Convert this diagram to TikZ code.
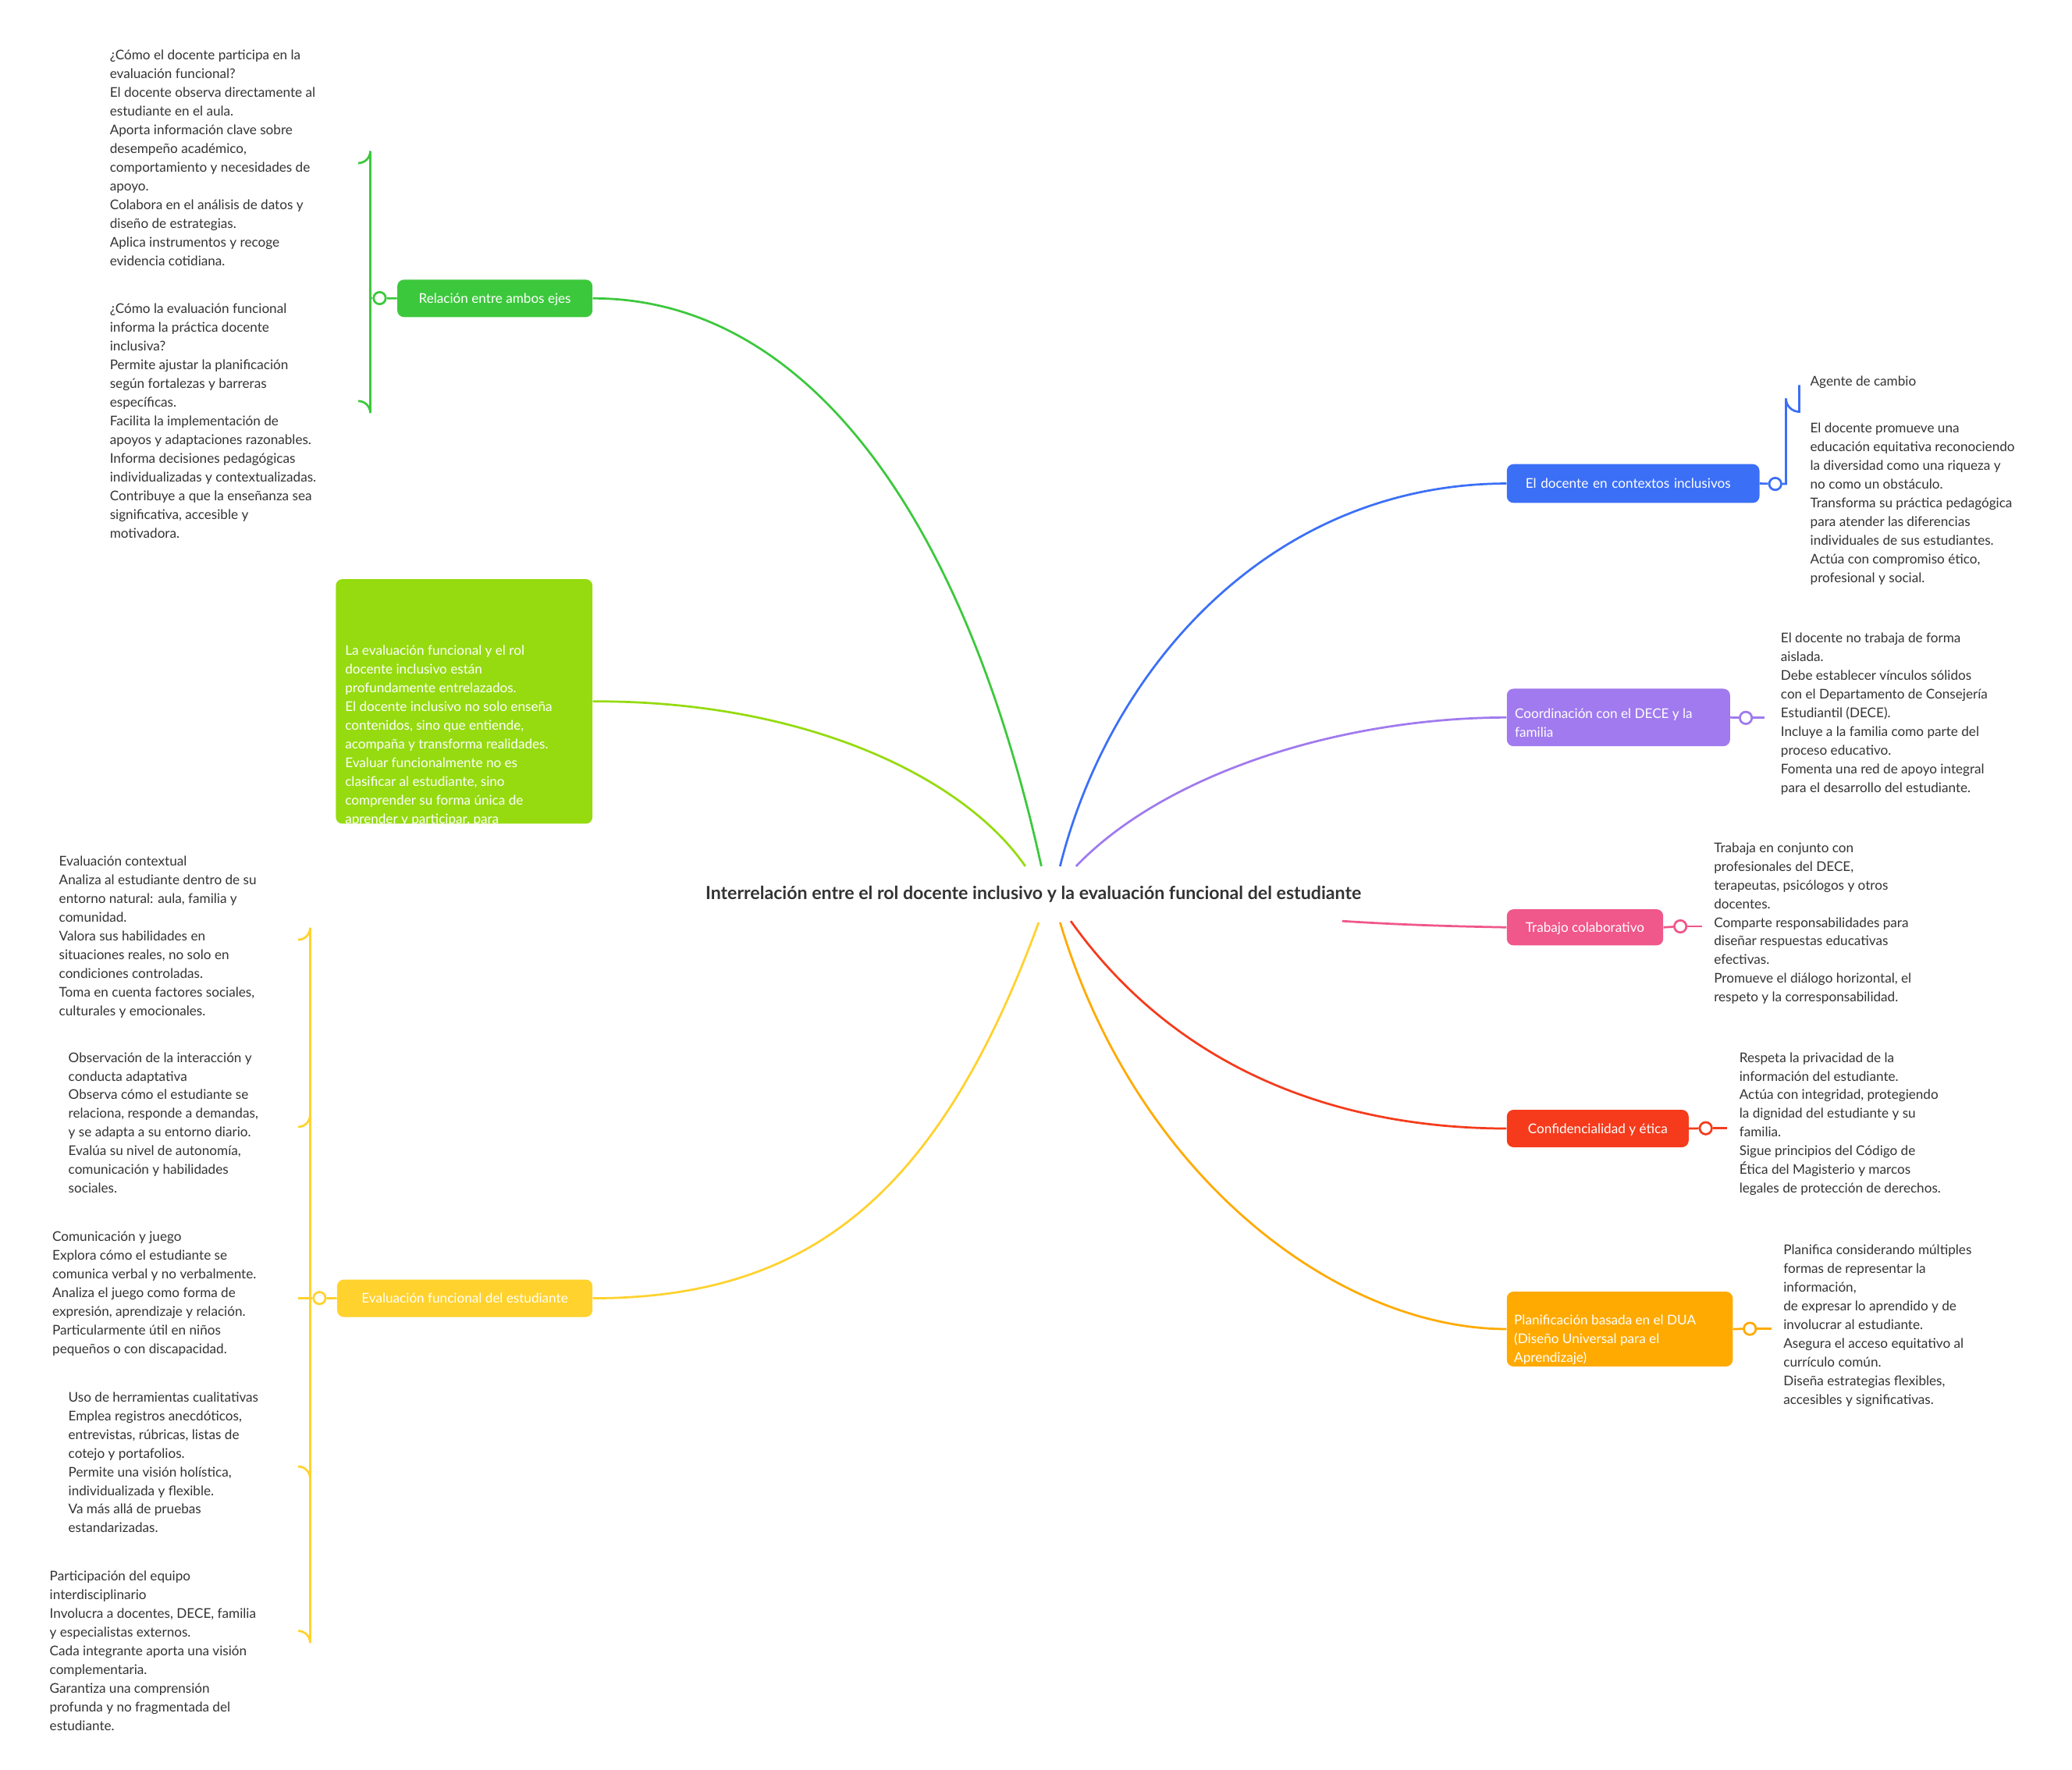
\documentclass[tikz,border=0pt]{standalone}
\usepackage{fontspec}
\setmainfont{Lato}
\begin{document}
\definecolor{cblue}{HTML}{3B6FF6}
\definecolor{cpurple}{HTML}{A07AEE}
\definecolor{cpink}{HTML}{F0578A}
\definecolor{cred}{HTML}{F53B1C}
\definecolor{corange}{HTML}{FFAA00}
\definecolor{cgreen}{HTML}{3CC83C}
\definecolor{clime}{HTML}{95DB10}
\definecolor{cyellow}{HTML}{FFD22E}
\definecolor{ctext}{HTML}{333333}
\begin{tikzpicture}[x=1pt,y=-1pt,
  box/.style={rounded corners=5pt,fill=#1,text=white,font=\fontsize{10}{14}\selectfont,align=left,anchor=north west,inner sep=0pt,text depth=0pt},
  leaf/.style={text=ctext,font=\fontsize{10}{14}\selectfont,align=left,anchor=north west,inner sep=0pt},
  br/.style={line width=1.6pt,draw=#1},
  dot/.style={circle,draw=#1,line width=1.6pt,fill=white,minimum size=9pt,inner sep=0pt}]
\useasboundingbox (0,0) rectangle (1550,1324);
\node[font=\bfseries\fontsize{13.5}{16}\selectfont,text=ctext] (title) at (773,669) {Interrelación entre el rol docente inclusivo y la evaluación funcional del estudiante};
\coordinate (sG) at (779,648);\coordinate (sL) at (767,648);\coordinate (sB) at (793,648);\coordinate (sP) at (805,648);
\coordinate (sY) at (777,690);\coordinate (sO) at (793,690);\coordinate (sR) at (801,689);\coordinate (sK) at (1004,689);
% boxes
\node[box=cblue,minimum width=189pt,minimum height=29pt,text width=175pt] (B) at (1127,347) {\hspace*{7pt}El docente en contextos inclusivos};
\node[box=cpurple,minimum width=167pt,minimum height=43pt] (P) at (1127,515) {\begin{minipage}{155pt}\hspace*{0pt}Coordinación con el DECE y la\\familia\end{minipage}};
\node[box=cpink,minimum width=117pt,minimum height=27pt] (K) at (1127,680) {Trabajo colaborativo};
\node[box=cred,minimum width=136pt,minimum height=28pt] (R) at (1127,830) {Confidencialidad y ética};
\node[box=corange,minimum width=169pt,minimum height=56pt] (O) at (1127,966) {\begin{minipage}{158pt}Planificación basada en el DUA\\(Diseño Universal para el\\Aprendizaje)\end{minipage}};
\node[box=cgreen,minimum width=146pt,minimum height=28pt] (G) at (297,209) {Relación entre ambos ejes};
\node[box=clime,minimum width=192pt,minimum height=183pt] (L) at (251,433) {\begin{minipage}{178pt}La evaluación funcional y el rol\\docente inclusivo están\\profundamente entrelazados.\\El docente inclusivo no solo enseña\\contenidos, sino que entiende,\\acompaña y transforma realidades.\\Evaluar funcionalmente no es\\clasificar al estudiante, sino\\comprender su forma única de\\aprender y participar, para\\construir una educación más\\humana y justa.\end{minipage}};
\node[box=cyellow,minimum width=191pt,minimum height=28pt] (Y) at (252,957) {Evaluación funcional del estudiante};
% main connectors
\draw[br=cblue] (sB) .. controls (830,500) and (950,362) .. (B.west);
\draw[br=cpurple] (sP) .. controls (870,580) and (1000,537) .. (P.west);
\draw[br=cpink] (sK) .. controls (1050,692) and (1090,693) .. (K.west);
\draw[br=cred] (sR) .. controls (880,800) and (1000,844) .. (R.west);
\draw[br=corange] (sO) .. controls (850,880) and (1000,994) .. (O.west);
\draw[br=cgreen] (sG) .. controls (720,380) and (600,223) .. (G.east);
\draw[br=clime] (sL) .. controls (720,580) and (600,524) .. (L.east);
\draw[br=cyellow] (sY) .. controls (700,900) and (600,971) .. (Y.east);
% leaves right
\node[leaf] (b1) at (1354,281) {Agente de cambio};
\node[leaf] (b2) at (1354,316) {El docente promueve una\\educación equitativa reconociendo\\la diversidad como una riqueza y\\no como un obstáculo.\\Transforma su práctica pedagógica\\para atender las diferencias\\individuales de sus estudiantes.\\Actúa con compromiso ético,\\profesional y social.};
\node[leaf] (p1) at (1332,473) {El docente no trabaja de forma\\aislada.\\Debe establecer vínculos sólidos\\con el Departamento de Consejería\\Estudiantil (DECE).\\Incluye a la familia como parte del\\proceso educativo.\\Fomenta una red de apoyo integral\\para el desarrollo del estudiante.};
\node[leaf] (k1) at (1282,630) {Trabaja en conjunto con\\profesionales del DECE,\\terapeutas, psicólogos y otros\\docentes.\\Comparte responsabilidades para\\diseñar respuestas educativas\\efectivas.\\Promueve el diálogo horizontal, el\\respeto y la corresponsabilidad.};
\node[leaf] (r1) at (1301,787) {Respeta la privacidad de la\\información del estudiante.\\Actúa con integridad, protegiendo\\la dignidad del estudiante y su\\familia.\\Sigue principios del Código de\\Ética del Magisterio y marcos\\legales de protección de derechos.};
\node[leaf] (o1) at (1334,931) {Planifica considerando múltiples\\formas de representar la\\información,\\de expresar lo aprendido y de\\involucrar al estudiante.\\Asegura el acceso equitativo al\\currículo común.\\Diseña estrategias flexibles,\\accesibles y significativas.};
% leaves left
\node[leaf] (g1) at (82,37) {¿Cómo el docente participa en la\\evaluación funcional?\\El docente observa directamente al\\estudiante en el aula.\\Aporta información clave sobre\\desempeño académico,\\comportamiento y necesidades de\\apoyo.\\Colabora en el análisis de datos y\\diseño de estrategias.\\Aplica instrumentos y recoge\\evidencia cotidiana.};
\node[leaf] (g2) at (82,227) {¿Cómo la evaluación funcional\\informa la práctica docente\\inclusiva?\\Permite ajustar la planificación\\según fortalezas y barreras\\específicas.\\Facilita la implementación de\\apoyos y adaptaciones razonables.\\Informa decisiones pedagógicas\\individualizadas y contextualizadas.\\Contribuye a que la enseñanza sea\\significativa, accesible y\\motivadora.};
\node[leaf] (y1) at (44,640) {Evaluación contextual\\Analiza al estudiante dentro de su\\entorno natural: aula, familia y\\comunidad.\\Valora sus habilidades en\\situaciones reales, no solo en\\condiciones controladas.\\Toma en cuenta factores sociales,\\culturales y emocionales.};
\node[leaf] (y2) at (51,787) {Observación de la interacción y\\conducta adaptativa\\Observa cómo el estudiante se\\relaciona, responde a demandas,\\y se adapta a su entorno diario.\\Evalúa su nivel de autonomía,\\comunicación y habilidades\\sociales.};
\node[leaf] (y3) at (39,921) {Comunicación y juego\\Explora cómo el estudiante se\\comunica verbal y no verbalmente.\\Analiza el juego como forma de\\expresión, aprendizaje y relación.\\Particularmente útil en niños\\pequeños o con discapacidad.};
\node[leaf] (y4) at (51,1041) {Uso de herramientas cualitativas\\Emplea registros anecdóticos,\\entrevistas, rúbricas, listas de\\cotejo y portafolios.\\Permite una visión holística,\\individualizada y flexible.\\Va más allá de pruebas\\estandarizadas.};
\node[leaf] (y5) at (37,1175) {Participación del equipo\\interdisciplinario\\Involucra a docentes, DECE, familia\\y especialistas externos.\\Cada integrante aporta una visión\\complementaria.\\Garantiza una comprensión\\profunda y no fragmentada del\\estudiante.};
% brackets
\node[dot=cblue] (dB) at (1328,362) {};
\draw[br=cblue] (B.east) -- (dB);
\draw[br=cblue] (dB.east) -- (1336,362) -- (1336,298) arc (180:90:10) -- (1346,288);
\node[dot=cpurple] (dP) at (1306,537) {};
\draw[br=cpurple] (P.east) -- (dP); \draw[br=cpurple] (dP.east) -- (1320,537);
\node[dot=cpink] (dK) at (1257,693) {};
\draw[br=cpink] (K.east) -- (dK); \draw[br=cpink] (dK.east) -- (1273,693);
\node[dot=cred] (dR) at (1276,844) {};
\draw[br=cred] (R.east) -- (dR); \draw[br=cred] (dR.east) -- (1292,844);
\node[dot=corange] (dO) at (1309,994) {};
\draw[br=corange] (O.east) -- (dO); \draw[br=corange] (dO.east) -- (1325,994);
\node[dot=cgreen] (dG) at (284,223) {};
\draw[br=cgreen] (G.west) -- (dG);
\draw[br=cgreen] (268,122) arc (90:0:9) -- (277,309) arc (0:-90:9);
\draw[br=cgreen] (dG.west) -- (277,223);
\node[dot=cyellow] (dY) at (239,971) {};
\draw[br=cyellow] (Y.west) -- (dY);
\draw[br=cyellow] (223,703) arc (90:0:9) -- (232,1229) arc (0:-90:9);
\draw[br=cyellow] (223,843) arc (90:0:9);
\draw[br=cyellow] (223,1097) arc (-90:0:9);
\draw[br=cyellow] (dY.west) -- (223,971);
\end{tikzpicture}
\end{document}
